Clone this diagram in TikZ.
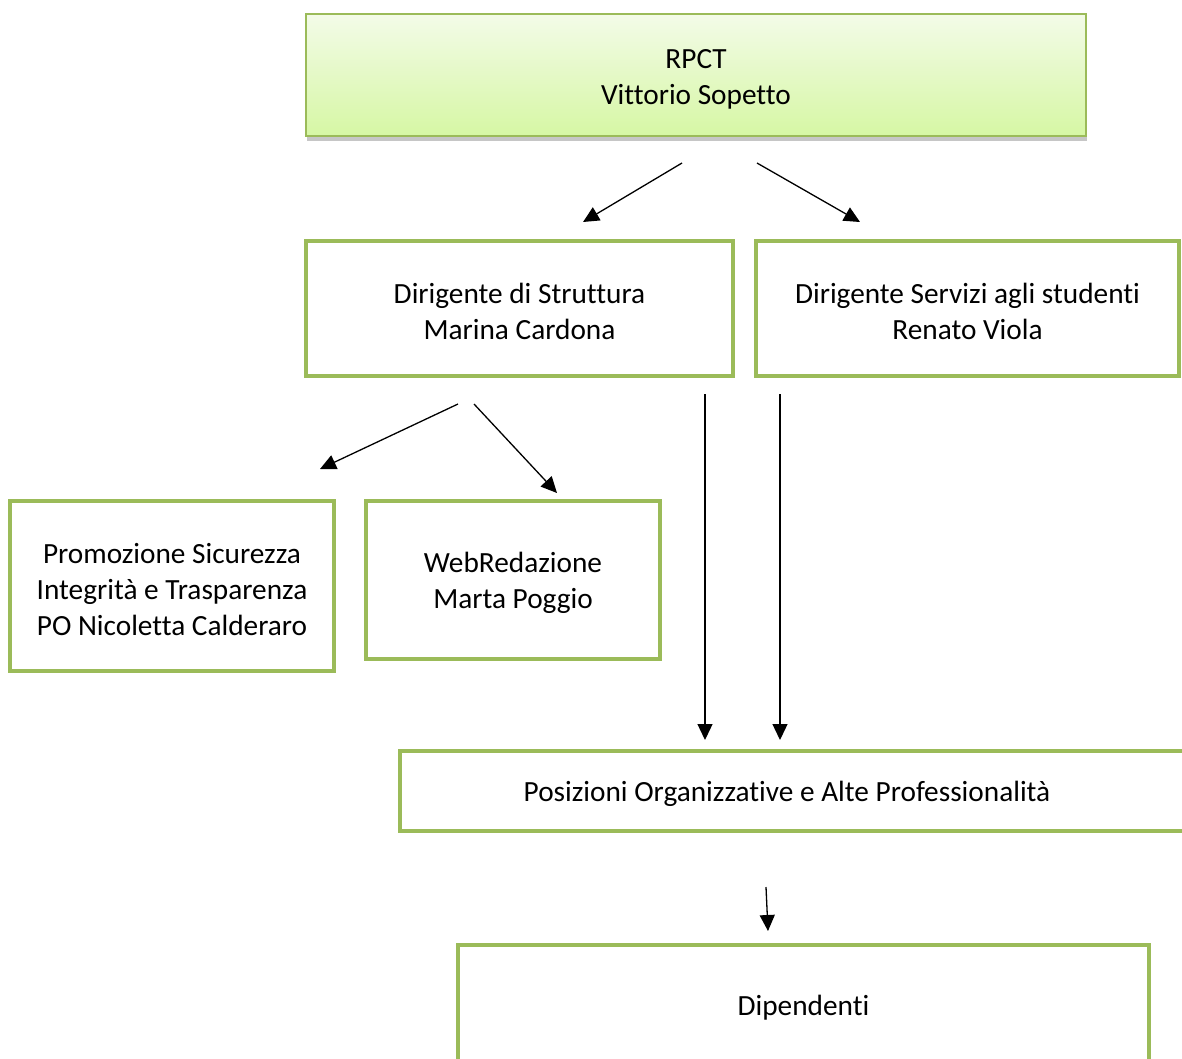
\documentclass[tikz,border=0pt]{standalone}
\usepackage{fontspec}
\setmainfont{Carlito}[Ligatures=NoCommon]
\usepackage{xcolor}
\usepackage{tikz}
\usetikzlibrary{arrows.meta,shadows}

\definecolor{orggreen}{RGB}{155,187,89}
\definecolor{topfill}{RGB}{243,251,232}
\definecolor{bottomfill}{RGB}{214,247,164}

% strut on the first line, to set the text a little lower
\newcommand{\firstline}{\rule{0pt}{27pt}}

\tikzset{
  boxtext/.style={align=center, font=\fontsize{29.3}{36}\selectfont},
  unitbox/.style={draw=orggreen, line width=4pt, rectangle, inner sep=0pt, boxtext},
  headbox/.style={draw=orggreen, line width=1.6pt, rectangle, inner sep=0pt, boxtext,
    top color=topfill, bottom color=bottomfill,
    drop shadow={shadow xshift=1pt, shadow yshift=-5pt, opacity=0.45}},
  link/.style={line width=1.3pt, -{Triangle[length=16pt,width=15pt]}}
}

\begin{document}
\begin{tikzpicture}[x=1pt, y=-1pt]
  % Page frame
  \useasboundingbox (0,0) rectangle (1182,1058);
  \clip (0,0) rectangle (1182,1058);

  % Top box
  \node[headbox, minimum width=780pt, minimum height=122pt] (rpct) at (696,75)
    {\firstline RPCT\\Vittorio Sopetto};

  % Managers
  \node[unitbox, minimum width=427pt, minimum height=135pt] (dirstr) at (519.5,308.5)
    {\firstline Dirigente di Struttura\\Marina Cardona};
  \node[unitbox, minimum width=423pt, minimum height=135pt] (dirserv) at (967.5,308.5)
    {\firstline Dirigente Servizi agli studenti\\Renato Viola};

  % Offices
  \node[unitbox, minimum width=324pt, minimum height=170pt] (promo) at (172,586)
    {\firstline Promozione Sicurezza\\Integrità e Trasparenza\\PO Nicoletta Calderaro};
  \node[unitbox, minimum width=294pt, minimum height=158pt] (web) at (513,580)
    {\firstline WebRedazione\\Marta Poggio};

  % Lower levels
  \node[unitbox, minimum width=800pt, minimum height=80pt,
    label={[boxtext, xshift=-13pt]center:\firstline Posizioni Organizzative e Alte Professionalità}]
    (posiz) at (800,791) {};
  \node[unitbox, minimum width=691pt, minimum height=118pt] (dip) at (803.5,1004)
    {\firstline Dipendenti};

  % Arrow ends
  \coordinate (rpctL) at (682,163);
  \coordinate (rpctR) at (757,163);
  \coordinate (dirstrIn) at (583,222);
  \coordinate (dirservIn) at (860,222);
  \coordinate (dirstrL) at (458,404);
  \coordinate (dirstrR) at (474,404);
  \coordinate (promoIn) at (320,469);
  \coordinate (webIn) at (557,493);
  \coordinate (dirstrD) at (705,394);
  \coordinate (dirservD) at (780,394);
  \coordinate (posizInL) at (705,740);
  \coordinate (posizInR) at (780,740);
  \coordinate (posizD) at (766,887);
  \coordinate (dipIn) at (768,931);

  % Arrows
  \draw[link] (rpctL) -- (dirstrIn);
  \draw[link] (rpctR) -- (dirservIn);
  \draw[link] (dirstrL) -- (promoIn);
  \draw[link] (dirstrR) -- (webIn);
  \draw[link] (dirstrD) -- (posizInL);
  \draw[link] (dirservD) -- (posizInR);
  \draw[link] (posizD) -- (dipIn);
\end{tikzpicture}
\end{document}
